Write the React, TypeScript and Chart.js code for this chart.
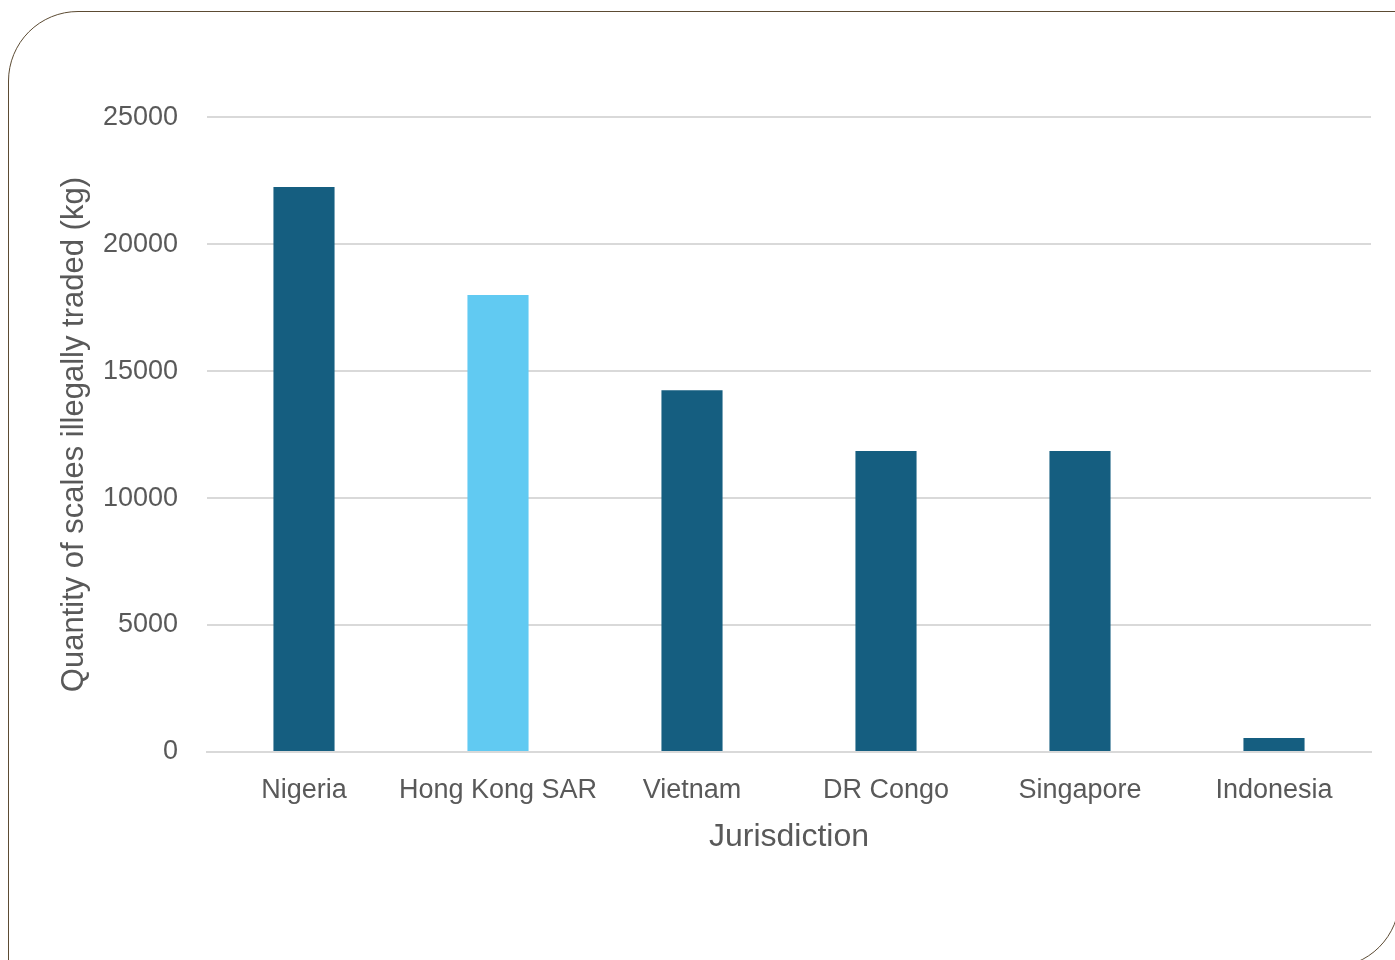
import React, { useEffect, useRef } from "react";
import { Chart, registerables } from "chart.js";

Chart.register(...registerables);

const categories = ["Nigeria", "Hong Kong SAR", "Vietnam", "DR Congo", "Singapore", "Indonesia"];
const quantities = [22250, 18000, 14250, 11850, 11850, 550];
const barColors = ["#155e80", "#61caf2", "#155e80", "#155e80", "#155e80", "#155e80"];
const yTitle = "Quantity of scales illegally traded (kg)";
const xTitle = "Jurisdiction";

const FONT = "'Liberation Sans', Arial, sans-serif";
const TEXT = "#595959";

export default function App() {
  const ref = useRef<HTMLCanvasElement | null>(null);
  useEffect(() => {
    if (!ref.current) return;
    const chart = new Chart(ref.current, {
      type: "bar",
      data: {
        labels: categories,
        datasets: [
          {
            data: quantities,
            backgroundColor: barColors,
            borderWidth: 0,
            categoryPercentage: 1,
            barPercentage: 0.315,
          },
        ],
      },
      options: {
        animation: false,
        responsive: false,
        maintainAspectRatio: false,
        layout: { padding: { top: 0, right: 14, bottom: 0, left: 0 } },
        plugins: { legend: { display: false }, tooltip: { enabled: false } },
        scales: {
          x: {
            afterFit: (scale: any) => {
              scale.height = 104;
            },
            grid: { display: false, drawTicks: false },
            border: { display: true, color: "#d9d9d9", width: 2 },
            ticks: { color: TEXT, font: { family: FONT, size: 27 }, padding: 22, maxRotation: 0, autoSkip: false },
            title: { display: true, text: xTitle, color: TEXT, font: { family: FONT, size: 32 }, padding: { top: 0, bottom: 0 } },
          },
          y: {
            min: 0,
            max: 25000,
            afterFit: (scale: any) => {
              scale.width = 157;
            },
            ticks: {
              stepSize: 5000,
              color: TEXT,
              font: { family: FONT, size: 27 },
              padding: 29,
              callback: (v: any) => String(v),
            },
            grid: { color: "#d9d9d9", lineWidth: 2, drawTicks: false },
            border: { display: false },
            title: { display: true, text: yTitle, color: TEXT, font: { family: FONT, size: 31 }, padding: { top: 6, bottom: 9 } },
          },
        },
      },
    });
    return () => chart.destroy();
  }, []);

  return (
    <div style={{ position: "fixed", left: 0, top: 0, width: 1395, height: 960, overflow: "hidden", background: "#fff" }}>
      <div
        style={{
          position: "absolute",
          left: 8,
          top: 11,
          width: 1392,
          height: 957,
          boxSizing: "border-box",
          border: "1.5px solid #5c4b33",
          borderTopLeftRadius: 70,
          borderBottomRightRadius: 70,
        }}
      />
      <canvas
        ref={ref}
        width={1335}
        height={784}
        style={{ position: "absolute", left: 50, top: 72, width: 1335, height: 784 }}
      />
    </div>
  );
}
